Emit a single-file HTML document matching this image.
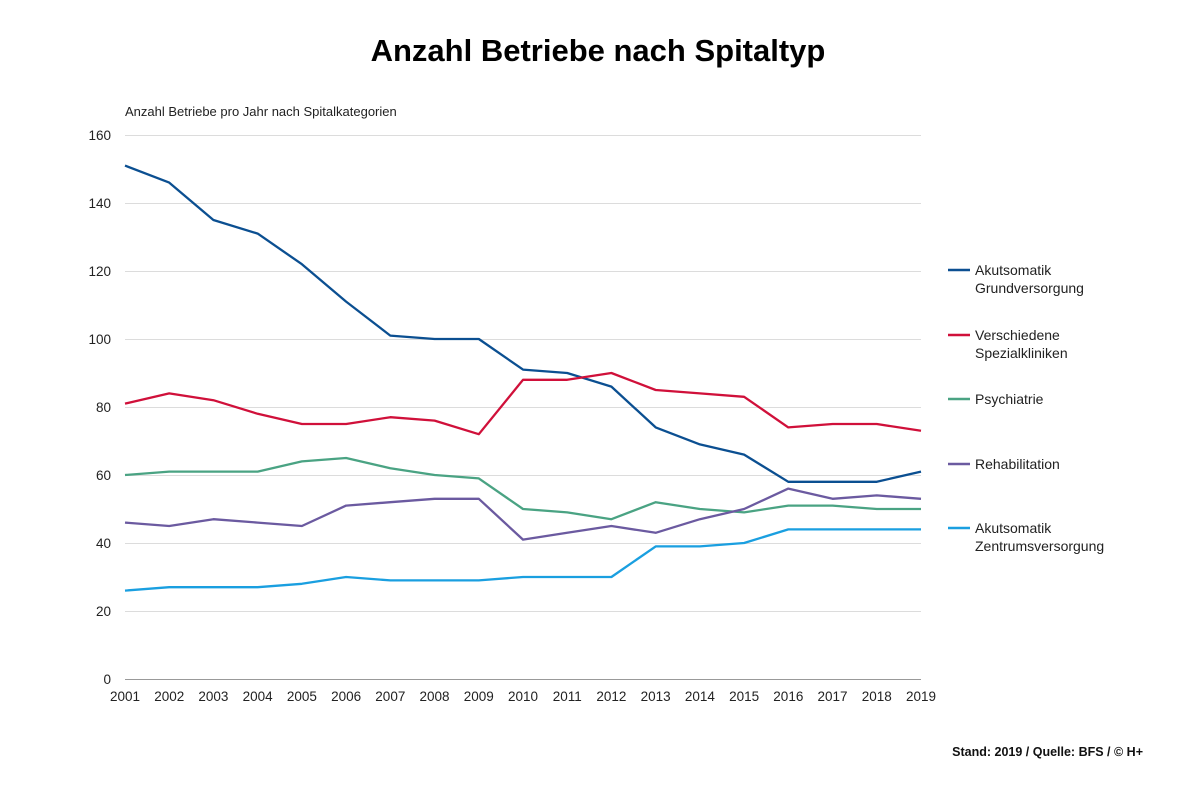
<!DOCTYPE html>
<html><head><meta charset="utf-8"><style>
html,body{margin:0;padding:0;background:#fff;}
svg{display:block;font-family:"Liberation Sans",sans-serif;}
</style></head><body>
<svg width="1200" height="796" viewBox="0 0 1200 796" xmlns="http://www.w3.org/2000/svg">
<text x="598" y="61" text-anchor="middle" font-size="31" font-weight="bold" fill="#000">Anzahl Betriebe nach Spitaltyp</text>
<text x="125" y="116" font-size="13" fill="#222">Anzahl Betriebe pro Jahr nach Spitalkategorien</text>
<g stroke="#dcdcdc" stroke-width="1">
<line x1="125" y1="135.5" x2="921" y2="135.5"/><line x1="125" y1="203.5" x2="921" y2="203.5"/>
<line x1="125" y1="271.5" x2="921" y2="271.5"/><line x1="125" y1="339.5" x2="921" y2="339.5"/>
<line x1="125" y1="407.5" x2="921" y2="407.5"/><line x1="125" y1="475.5" x2="921" y2="475.5"/>
<line x1="125" y1="543.5" x2="921" y2="543.5"/><line x1="125" y1="611.5" x2="921" y2="611.5"/>
</g>
<line x1="125" y1="679.5" x2="921" y2="679.5" stroke="#999" stroke-width="1"/>
<g font-size="13.5" fill="#222" text-anchor="end">
<text x="111" y="140">160</text><text x="111" y="208">140</text><text x="111" y="276">120</text>
<text x="111" y="344">100</text><text x="111" y="412">80</text><text x="111" y="480">60</text>
<text x="111" y="548">40</text><text x="111" y="616">20</text><text x="111" y="684">0</text>
</g>
<g font-size="13.5" fill="#222" text-anchor="middle" id="xl"></g>
<g id="lines" fill="none" stroke-width="2.3" stroke-linejoin="round"></g>
<g font-size="14" fill="#222">
<line x1="948" y1="270" x2="970" y2="270" stroke="#0b4f91" stroke-width="2.5"/>
<text x="975" y="275">Akutsomatik</text><text x="975" y="293">Grundversorgung</text>
<line x1="948" y1="335" x2="970" y2="335" stroke="#d0103a" stroke-width="2.5"/>
<text x="975" y="340">Verschiedene</text><text x="975" y="358">Spezialkliniken</text>
<line x1="948" y1="399" x2="970" y2="399" stroke="#4aa383" stroke-width="2.5"/>
<text x="975" y="404">Psychiatrie</text>
<line x1="948" y1="464" x2="970" y2="464" stroke="#6b5aa0" stroke-width="2.5"/>
<text x="975" y="469">Rehabilitation</text>
<line x1="948" y1="528" x2="970" y2="528" stroke="#1a9fe0" stroke-width="2.5"/>
<text x="975" y="533">Akutsomatik</text><text x="975" y="551">Zentrumsversorgung</text>
</g>
<text x="1143" y="756" text-anchor="end" font-size="12.5" font-weight="bold" fill="#111">Stand: 2019 / Quelle: BFS / © H+</text>
<script>
var data={
"#0b4f91":[151,146,135,131,122,111,101,100,100,91,90,86,74,69,66,58,58,58,61],
"#d0103a":[81,84,82,78,75,75,77,76,72,88,88,90,85,84,83,74,75,75,73],
"#4aa383":[60,61,61,61,64,65,62,60,59,50,49,47,52,50,49,51,51,50,50],
"#6b5aa0":[46,45,47,46,45,51,52,53,53,41,43,45,43,47,50,56,53,54,53],
"#1a9fe0":[26,27,27,27,28,30,29,29,29,30,30,30,39,39,40,44,44,44,44]};
var ns="http://www.w3.org/2000/svg",g=document.getElementById("lines"),xl=document.getElementById("xl");
function X(i){return 125+i*796/18;}function Y(v){return 679-v*3.4;}
for(var i=0;i<19;i++){var t=document.createElementNS(ns,"text");t.setAttribute("x",X(i));t.setAttribute("y",701);t.textContent=2001+i;xl.appendChild(t);}
for(var c in data){var p=document.createElementNS(ns,"polyline");p.setAttribute("stroke",c);p.setAttribute("points",data[c].map(function(v,i){return X(i).toFixed(1)+","+Y(v).toFixed(1)}).join(" "));g.appendChild(p);}
</script>
</svg>
</body></html>
